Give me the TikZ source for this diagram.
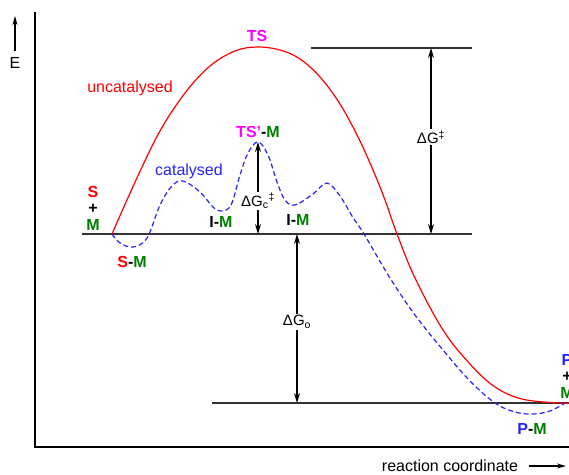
\documentclass[tikz,border=0pt]{standalone}
\usepackage{fontspec}
\setmainfont{Liberation Sans}
\usetikzlibrary{arrows.meta,positioning}
\definecolor{tsmagenta}{RGB}{255,0,255}
\definecolor{mgreen}{RGB}{0,128,0}
\definecolor{catblue}{RGB}{35,35,255}
\definecolor{uncred}{RGB}{255,0,0}

\begin{document}
\begin{tikzpicture}[x=1pt, y=-1pt,
    level/.style={line width=1.4pt, draw=black!80},
    gap/.style={<->, >={Stealth[length=10pt,width=6pt]}, line width=1.2pt},
    axarrow/.style={->, >={Stealth[length=9pt,width=5pt]}, line width=1.2pt},
    lbl/.style={font=\fontsize{16}{16.5}\selectfont\bfseries, inner sep=1pt, align=center},
    txt/.style={font=\fontsize{16}{16}\selectfont, inner sep=1pt},
    dg/.style={font=\fontsize{15}{15}\selectfont, fill=white, inner sep=1.5pt}
]
\useasboundingbox (0,0) rectangle (569,474);
\clip (0,0) rectangle (569,474);

% axes
\draw[line width=1.2pt] (35,12) -- (35,447) -- (569,447);
\node[txt] (e) at (15,63) {E};
\coordinate (etop) at (15,16);
\draw[axarrow] ([yshift=5pt]e.north) -- (etop);
\node[txt] (rc) at (450,466) {reaction coordinate};
\coordinate (rcend) at (566,466);
\draw[axarrow] ([xshift=10pt]rc.east) -- (rcend);

% energy levels
\coordinate (r0) at (82,234);  \coordinate (r1) at (472,234);
\coordinate (t0) at (311,48);  \coordinate (t1) at (472,48);
\coordinate (p0) at (212,403); \coordinate (p1) at (569,403);
\draw[level] (r0) -- (r1);
\draw[level] (t0) -- (t1);
\draw[level] (p0) -- (p1);

% uncatalysed path
\draw[uncred, line width=1.2pt] plot[smooth, tension=0.6] coordinates {
  (112,234) (136,180) (160,131) (185,93) (210,66) (235,51) (257,47)
  (280,50) (300,59) (320,77) (340,104) (358,137) (373,170) (385,200)
  (397,234) (415,278) (443,330) (470,364) (495,387) (522,399) (557,403) (569,403)};

% catalysed path
\draw[catblue, line width=1.2pt, dash pattern=on 5pt off 3pt] plot[smooth, tension=0.6] coordinates {
  (112,234) (120,243) (133,247) (147,238) (160,205) (172,186) (183,181)
  (200,192) (213,207) (221,211) (231,205) (240,175) (248,153) (258,142)
  (268,155) (277,182) (285,200) (295,205) (313,194) (327,183) (340,196)
  (352,216) (364,234) (390,278) (415,315) (443,350) (470,381) (495,403)
  (515,412) (533,414) (550,411) (565,403)};

% gaps
\coordinate (ga) at (431,48);  \coordinate (gb) at (431,234);
\draw[gap] (ga) -- node[dg, pos=0.48] (dgu) {ΔG\textsuperscript{‡}} (gb);
\coordinate (ca) at (258,142); \coordinate (cb) at (258,234);
\draw[gap] (ca) -- node[dg, pos=0.64] (dgc) {ΔG\textsubscript{c}\textsuperscript{‡}} (cb);
\coordinate (oa) at (297,234); \coordinate (ob) at (297,403);
\draw[gap] (oa) -- node[dg, pos=0.52] (dgo) {ΔG\textsubscript{o}} (ob);

% labels
\coordinate (tspk) at (257,47);
\node[lbl, text=tsmagenta, above=4pt of tspk] (ts) {TS};
\node[lbl, above=3pt of ca] (tsm) {\textcolor{tsmagenta}{TS'}-\textcolor{mgreen}{M}};
\node[txt, text=uncred] (unc) at (130,88) {uncatalysed};
\node[txt, text=catblue] (cat) at (189,171) {catalysed};
\node[lbl] (sm0) at (93,208) {\textcolor{uncred}{S}\\+\\\textcolor{mgreen}{M}};
\node[lbl] (sm) at (132,262) {\textcolor{uncred}{S}-\textcolor{mgreen}{M}};
\node[lbl] (im1) at (221,222) {I-\textcolor{mgreen}{M}};
\node[lbl] (im2) at (298,220) {I-\textcolor{mgreen}{M}};
\node[lbl] (pm) at (532,429) {\textcolor{catblue}{P}-\textcolor{mgreen}{M}};
\node[lbl] (pm0) at (567,376) {\textcolor{catblue}{P}\\+\\\textcolor{mgreen}{M}};
\end{tikzpicture}
\end{document}
